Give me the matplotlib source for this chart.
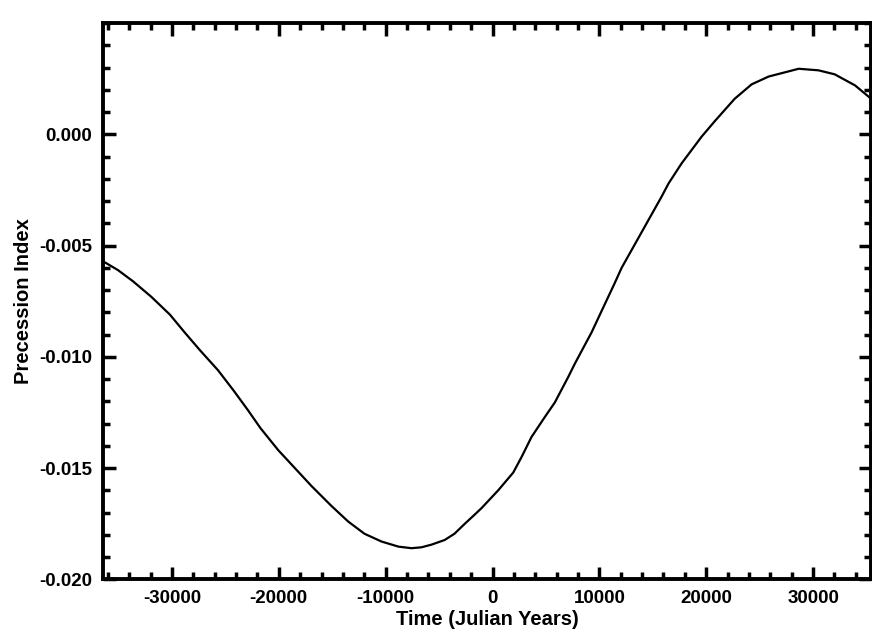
import numpy as np
import matplotlib.pyplot as plt
from matplotlib.ticker import MultipleLocator, FormatStrFormatter

plt.rcParams['font.family'] = ['Liberation Sans', 'DejaVu Sans']
plt.rcParams['font.weight'] = 'bold'
plt.rcParams['axes.unicode_minus'] = False

# curve
years = [-36460, -35050, -33650, -31930, -30190, -28810, -27380, -25690,
         -24250, -22880, -21720, -20040, -16950, -15075, -13510, -11985,
         -10390, -8800, -7580, -6650, -5710, -4470, -3560, -2590,
         -1690, -1030, 530, 1940, 2720, 3650, 4900, 5830,
         7090, 7710, 9270, 10050, 11420, 12080, 13950, 15820,
         16480, 17700, 19570, 20810, 22660, 24250, 25840, 28650,
         30500, 32020, 33930, 35430]
index = [-0.0057, -0.0061, -0.0066, -0.0073, -0.0081, -0.0089, -0.0097, -0.0106,
         -0.0115, -0.0124, -0.0132, -0.0142, -0.0158, -0.0167, -0.0174, -0.01795,
         -0.0183, -0.01853, -0.0186, -0.01856, -0.01844, -0.01823, -0.01795, -0.0175,
         -0.0171, -0.0168, -0.0160, -0.0152, -0.0145, -0.0136, -0.0127, -0.01205,
         -0.0109, -0.0103, -0.0089, -0.0081, -0.0067, -0.0060, -0.0044, -0.0028,
         -0.0022, -0.0013, -0.0001, 0.0006, 0.0016, 0.00225, 0.0026, 0.00295,
         0.00288, 0.0027, 0.0022, 0.0016]

fig = plt.figure(figsize=(8.72, 6.43), dpi=100)
ax = fig.add_axes([0.118, 0.099, 0.881, 0.865])

ax.plot(years, index, color='black', lw=1.6)

ax.set_xlim(-36460, 35430)
ax.set_ylim(-0.020, 0.005)
ax.xaxis.set_major_locator(MultipleLocator(10000))
ax.xaxis.set_minor_locator(MultipleLocator(2000))
ax.yaxis.set_major_locator(MultipleLocator(0.005))
ax.yaxis.set_minor_locator(MultipleLocator(0.001))
ax.yaxis.set_major_formatter(FormatStrFormatter('%.3f'))
ax.set_yticks([-0.020, -0.015, -0.010, -0.005, 0.000])

ax.tick_params(which='both', direction='in', top=True, right=True,
               color='black', labelsize=13.5)
ax.tick_params(which='major', length=9, width=2.5, pad=8)
ax.tick_params(which='minor', length=5, width=2.5)
for s in ax.spines.values():
    s.set_linewidth(2.8)

ax.set_xlabel('Time (Julian Years)', fontsize=14.5, fontweight='bold', labelpad=2)
ax.set_ylabel('Precession Index', fontsize=14.5, fontweight='bold', labelpad=4)

plt.savefig('out.png', dpi=100)
